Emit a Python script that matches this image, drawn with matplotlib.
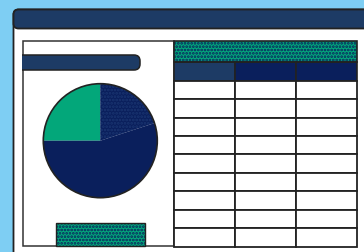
import matplotlib.pyplot as plt
from matplotlib.patches import Rectangle, FancyBboxPatch, Circle

# pie shares (green, navy, dotted navy), counter-clockwise from the top
pie_values = [25, 55, 20]
pie_colors = ['#03a77a', '#0a1f5c', '#0a1f5c']
# table layout: header cell colours and number of blank body rows
header_colors = ['#1d3b65', '#0a1f5c', '#0a1f5c']
n_body_rows = 9

sky = '#7ecef3'
bar_blue = '#1d3b65'
green = '#03a77a'
navy = '#0a1f5c'
line = '#222222'

plt.rcParams['hatch.linewidth'] = 1.3

W, H = 364, 253
fig = plt.figure(figsize=(W / 100, H / 100), dpi=100)
fig.patch.set_facecolor(sky)
ax = fig.add_axes([0, 0, 1, 1])

def Y(y):
    # image rows (top-down) to axes coords (bottom-up)
    return H - y

#window body and title bar
ax.add_patch(FancyBboxPatch((13.5, Y(280)), 400, 280 - 10.5, boxstyle='round,pad=0,rounding_size=5',
                            fc='white', ec=line, lw=1.3, zorder=1))
ax.add_patch(FancyBboxPatch((13.5, Y(29.5)), 400, 19, boxstyle='round,pad=0,rounding_size=5',
                            fc=bar_blue, ec=line, lw=1.3, zorder=2))

#left panel
panel = Rectangle((22.5, Y(247)), 174 - 22.5, 247 - 42, fc='white', ec='#333333', lw=1.1, zorder=3)
ax.add_patch(panel)
pill = FancyBboxPatch((12, Y(71)), 128, 15, boxstyle='round,pad=0,rounding_size=6',
                      fc=bar_blue, ec=line, lw=1.1, zorder=4)
ax.add_patch(pill)
pill.set_clip_path(Rectangle((22, Y(247)), 160, 210, transform=ax.transData))

#pie
cx, cy, r = 100.3, Y(141.7), 57
wedges, _ = ax.pie(pie_values, colors=pie_colors, startangle=90, counterclock=True,
                   center=(cx, cy), radius=r, wedgeprops=dict(linewidth=0))
for w in wedges:
    w.set_zorder(4)
wedges[2].set_hatch('.....')
wedges[2].set_edgecolor('#1a3571')
ax.add_patch(Circle((cx, cy), r, fc='none', ec=line, lw=1.2, zorder=5))

#green button at the bottom
ax.add_patch(Rectangle((55.5, Y(246.5)), 89, 22.5, fc=green, ec=navy, hatch='.....', lw=0, zorder=4))
ax.add_patch(Rectangle((55.5, Y(246.5)), 89, 22.5, fc='none', ec=line, lw=1.0, zorder=5))

#table
tx0, tx1 = 174, 356.5
col_w = (tx1 - tx0) / len(header_colors)
ax.add_patch(Rectangle((tx0, Y(62.7)), tx1 - tx0, 62.7 - 42, fc=green, ec=navy, hatch='.....', lw=0, zorder=4))
ax.add_patch(Rectangle((tx0, Y(62.7)), tx1 - tx0, 62.7 - 42, fc='none', ec=line, lw=1.2, zorder=6))
for i, c in enumerate(header_colors):
    ax.add_patch(Rectangle((tx0 + i * col_w, Y(81.7)), col_w, 19, fc=c, ec=line, lw=1.2, zorder=5))
row_h = (247.5 - 81.7) / n_body_rows
for j in range(n_body_rows):
    top = 81.7 + j * row_h
    for i in range(len(header_colors)):
        ax.add_patch(Rectangle((tx0 + i * col_w, Y(top + row_h)), col_w, row_h,
                               fc='white', ec=line, lw=1.3, zorder=5))

ax.set_xlim(0, W)
ax.set_ylim(0, H)
ax.set_axis_off()
fig.savefig('out.png', dpi=100, facecolor=sky)
